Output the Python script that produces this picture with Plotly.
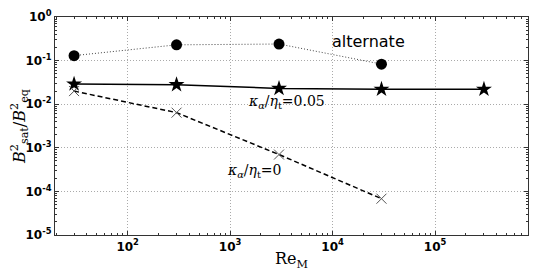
import plotly.graph_objects as go

alt_x = [30, 300, 3000, 30000]
alt_y = [0.13, 0.23, 0.24, 0.083]
k005_x = [30, 300, 3000, 30000, 300000]
k005_y = [0.029, 0.028, 0.023, 0.022, 0.022]
k0_x = [30, 300, 3000, 30000]
k0_y = [0.020, 0.0064, 0.0007, 0.000068]

ytickvals = [1, 0.1, 0.01, 0.001, 0.0001, 0.00001]
yticktext = ["10<sup>0</sup>", "10<sup>-1</sup>", "10<sup>-2</sup>", "10<sup>-3</sup>", "10<sup>-4</sup>", "10<sup>-5</sup>"]
xtickvals = [100, 1000, 10000, 100000]
xticktext = ["10<sup>2</sup>", "10<sup>3</sup>", "10<sup>4</sup>", "10<sup>5</sup>"]

x_minor = [m * 10 ** d for d in range(1, 6) for m in range(2, 10)]
y_minor = [m * 10.0 ** d for d in range(-5, 0) for m in range(2, 10)]

fig = go.Figure()
fig.add_trace(go.Scatter(x=alt_x, y=alt_y, mode="lines+markers",
                         line=dict(color="#444444", width=1, dash="1px,2px"),
                         marker=dict(symbol="circle", size=11, color="black")))
fig.add_trace(go.Scatter(x=k005_x, y=k005_y, mode="lines+markers",
                         line=dict(color="black", width=1.5),
                         marker=dict(symbol="star", size=12, color="black")))
fig.add_trace(go.Scatter(x=k0_x, y=k0_y, mode="lines+markers",
                         line=dict(color="black", width=1.5, dash="5px,3px"),
                         marker=dict(symbol="x-thin-open", size=10, color="#555555",
                                     line=dict(color="#555555", width=1))))

fig.add_annotation(x=4.35, y=-0.56, xref="x", yref="y", text="alternate", showarrow=False,
                   font=dict(family="DejaVu Sans", size=16, color="black"))
fig.add_annotation(x=3.55, y=-1.96, xref="x", yref="y",
                   text="<i>κ<sub>α</sub></i>/<i>η</i><sub>t</sub>=0.05", showarrow=False,
                   font=dict(family="DejaVu Serif", size=14, color="black"))
fig.add_annotation(x=3.24, y=-3.54, xref="x", yref="y",
                   text="<i>κ<sub>α</sub></i>/<i>η</i><sub>t</sub>=0", showarrow=False,
                   font=dict(family="DejaVu Serif", size=14, color="black"))

axis_common = dict(
    showline=True, linecolor="#333333", linewidth=1.2, mirror="ticks",
    showgrid=True, gridcolor="#aaaaaa", griddash="1px,2px", gridwidth=1,
    ticks="inside", ticklen=4, tickcolor="#333333",
    zeroline=False, automargin=False, ticklabeloverflow="allow",
    tickfont=dict(family="DejaVu Sans", size=12, color="black", weight="bold"),
)

fig.update_xaxes(type="log", range=[1.291, 5.907], tickvals=xtickvals, ticktext=xticktext,
                 minor=dict(ticks="inside", ticklen=2, tickcolor="#333333", showgrid=False,
                            tickvals=x_minor),
                 title=dict(text="Re<sub>M</sub>", font=dict(family="DejaVu Serif", size=16, color="black"),
                            standoff=0),
                 **axis_common)
fig.update_yaxes(type="log", range=[-5, 0], tickvals=ytickvals, ticktext=yticktext,
                 minor=dict(ticks="inside", ticklen=2, tickcolor="#333333", showgrid=False,
                            tickvals=y_minor),
                 title=dict(text="<i>B</i><sup>2</sup><sub>sat</sub>/<i>B</i><sup>2</sup><sub>eq</sub>",
                            font=dict(family="DejaVu Serif", size=16, color="black"), standoff=0),
                 **axis_common)

fig.update_layout(width=532, height=265, margin=dict(l=47, r=12, t=9, b=38),
                  paper_bgcolor="white", plot_bgcolor="white", showlegend=False)

fig.write_html("out.html")
